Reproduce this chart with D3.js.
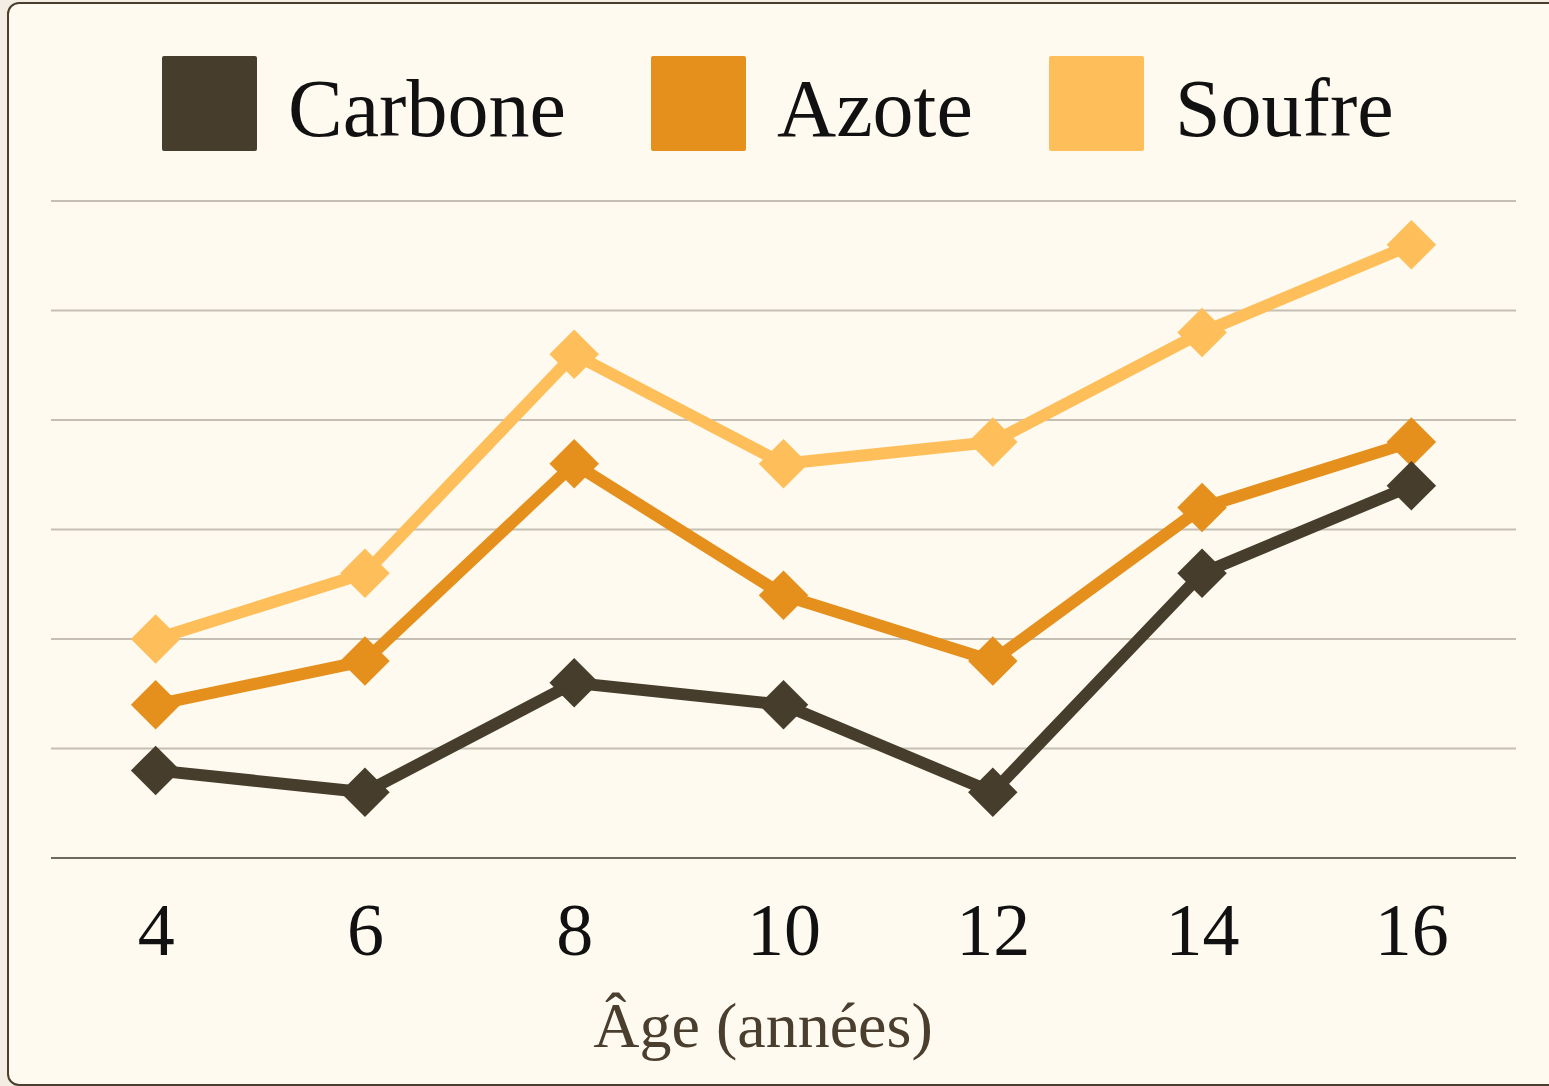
<!DOCTYPE html>
<html>
<head>
<meta charset="utf-8">
<script src="https://cdn.jsdelivr.net/npm/d3@7"></script>
<style>
  html, body { margin: 0; padding: 0; background: #f3ede3; }
  svg { display: block; }
</style>
</head>
<body>
<svg id="chart"></svg>
<script>
// data
const ages = [4, 6, 8, 10, 12, 14, 16];
const carbone = [4, 3, 8, 7, 3, 13, 17];
const azote = [7, 9, 18, 12, 9, 16, 19];
const soufre = [10, 13, 23, 18, 19, 24, 28];
const seriesNames = ["Carbone", "Azote", "Soufre"];
const seriesColors = ["#473d2c", "#e58f1d", "#febf5b"];
const yTicks = [0, 5, 10, 15, 20, 25, 30];
const xLabel = "Âge (années)";

const W = 1549, H = 1086;
const margin = {top: 201, right: 33, bottom: 228, left: 51};

const svg = d3.select("#chart").attr("width", W).attr("height", H);
const font = "'Liberation Serif', 'DejaVu Serif', serif";

// card
svg.append("rect")
    .attr("x", 8).attr("y", 3)
    .attr("width", W - 8 + 10).attr("height", H - 3 - 1)
    .attr("rx", 11)
    .attr("fill", "#fffaef")
    .attr("stroke", "#4a3f2f")
    .attr("stroke-width", 2);

const x = d3.scalePoint()
    .domain(ages)
    .range([margin.left, W - margin.right])
    .padding(0.5);

const y = d3.scaleLinear()
    .domain([0, 30])
    .range([H - margin.bottom, margin.top]);

// grid
svg.append("g")
  .selectAll("line")
  .data(yTicks)
  .join("line")
    .attr("x1", margin.left).attr("x2", W - margin.right)
    .attr("y1", d => y(d)).attr("y2", d => y(d))
    .attr("stroke", d => d === 0 ? "#6e695d" : "#c4bfb2")
    .attr("stroke-width", 2);

// x axis labels
const xAxis = svg.append("g")
    .attr("transform", `translate(0,${H - margin.bottom})`)
    .call(d3.axisBottom(x).tickSize(0).tickPadding(97));
xAxis.select(".domain").remove();
xAxis.selectAll("text")
    .attr("dy", 0)
    .style("font-family", font)
    .style("font-size", "74px")
    .attr("fill", "#111");

svg.append("text")
    .attr("x", 763).attr("y", 1047)
    .attr("text-anchor", "middle")
    .style("font-family", font)
    .style("font-size", "64px")
    .attr("fill", "#4a3f2f")
    .text(xLabel);

// lines + markers
const allSeries = [carbone, azote, soufre];
const line = d3.line().x((d, i) => x(ages[i])).y(d => y(d));
const diamond = d3.symbol().type(d3.symbolSquare).size(35 * 35);

const order = [2, 1, 0];
order.forEach(k => {
  const g = svg.append("g");
  g.append("path")
      .datum(allSeries[k])
      .attr("d", line)
      .attr("fill", "none")
      .attr("stroke", seriesColors[k])
      .attr("stroke-width", 12);
  g.selectAll("path.pt")
    .data(allSeries[k])
    .join("path")
      .attr("class", "pt")
      .attr("d", diamond)
      .attr("transform", (d, i) => `translate(${x(ages[i])},${y(d)}) rotate(45)`)
      .attr("fill", seriesColors[k]);
});

// legend
const legendX = [162, 651, 1049];
const legend = svg.append("g");
seriesNames.forEach((name, i) => {
  legend.append("rect")
      .attr("x", legendX[i]).attr("y", 56)
      .attr("width", 95).attr("height", 95)
      .attr("rx", 2)
      .attr("fill", seriesColors[i]);
  legend.append("text")
      .attr("x", legendX[i] + 126).attr("y", 136)
      .style("font-family", font)
      .style("font-size", "82px")
      .attr("fill", "#111")
      .text(name);
});
</script>
</body>
</html>
